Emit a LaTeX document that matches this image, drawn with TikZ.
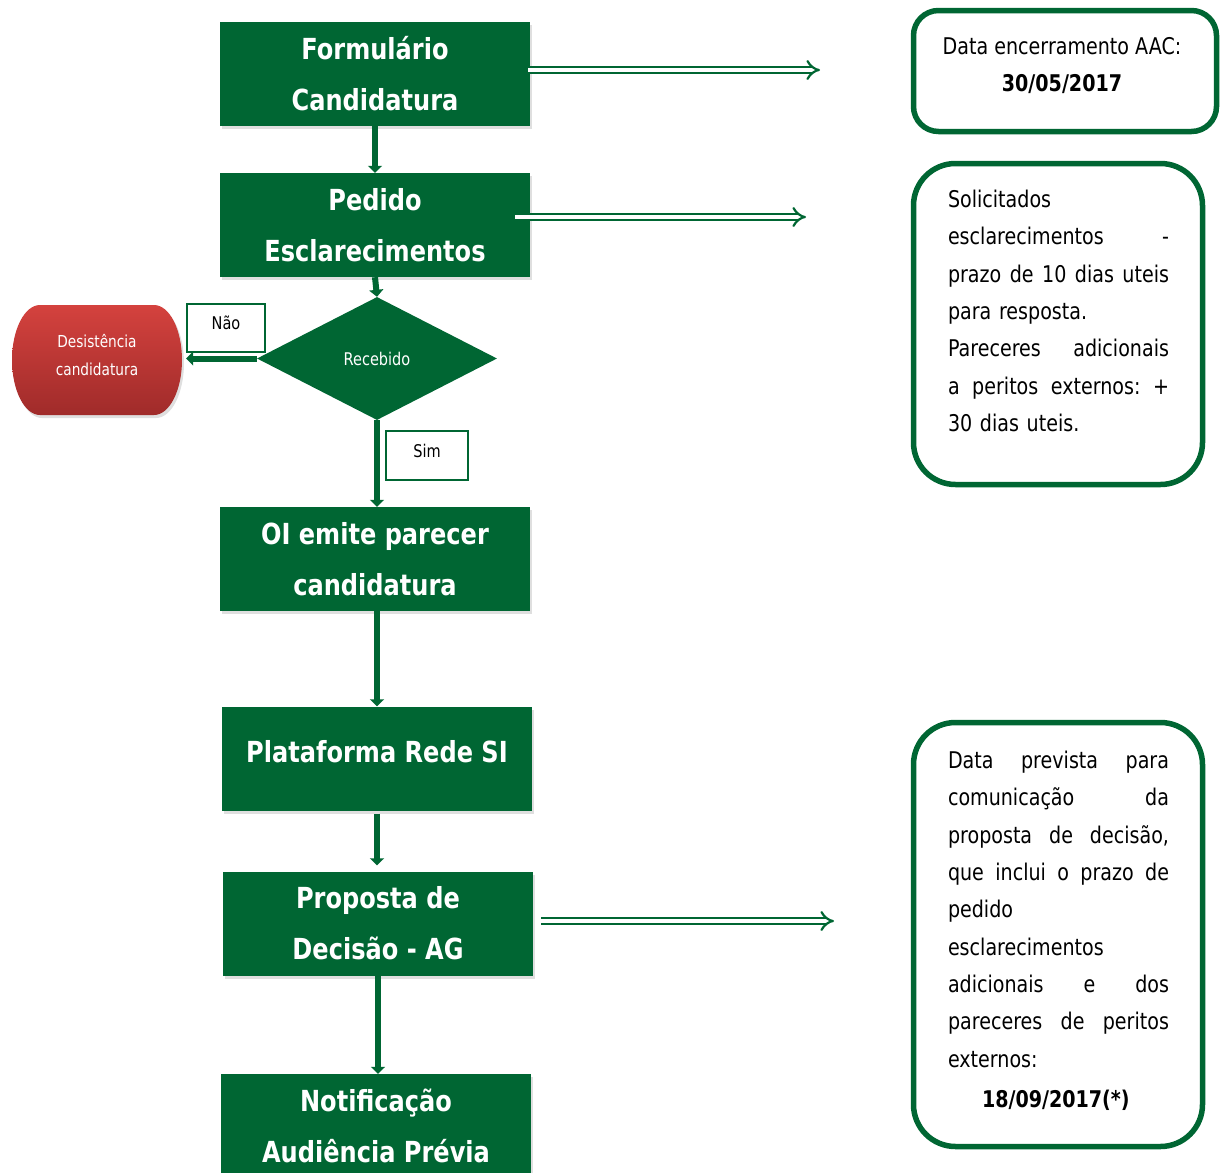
\documentclass[tikz,border=0pt]{standalone}
\usepackage{fontspec}
\setmainfont{DejaVu Sans}[FakeStretch=0.83]
\usetikzlibrary{arrows.meta,shapes.geometric,shapes.misc,shadows,calc}
\definecolor{dg}{HTML}{006633}
\definecolor{redtop}{HTML}{D4423E}
\definecolor{redbot}{HTML}{A02B2A}
\begin{document}
\begin{tikzpicture}[x=1pt,y=-1pt,
  stepbox/.style={fill=dg, text=white, font=\bfseries\fontsize{29}{51}\selectfont,
    minimum width=310pt, minimum height=104pt, inner sep=0pt, align=center,
    drop shadow={opacity=0.25, shadow xshift=2pt, shadow yshift=-3pt}},
  flow/.style={draw=dg, line width=6pt, -{Triangle[width=14pt,length=7pt]}},
  hollow/.style={draw=dg, double=white, double distance=4.5pt, line width=2.2pt, -{Implies}},
  notebox/.style={draw=dg, line width=5.5pt, fill=white},
  labelbox/.style={draw=dg, line width=2pt, fill=white, font=\fontsize{17.5}{20}\selectfont, inner sep=0pt},
  bodytext/.style={font=\fontsize{23}{37.3}\selectfont, align=left, inner sep=0pt, text width=221pt}
]
\path[use as bounding box] (0,0) rectangle (1224,1173);
\clip (0,0) rectangle (1224,1173);

% main flow boxes
\node[stepbox] (b1) at (375,74) {Formulário\\Candidatura};
\node[stepbox] (b2) at (375,225) {Pedido\\Esclarecimentos};
\node[diamond, fill=dg, minimum width=240pt, minimum height=123pt, inner sep=0pt,
  text=white, font=\fontsize{17.5}{20}\selectfont] (d) at (377,358.5) {Recebido};
\node[stepbox] (b3) at (375,559) {OI emite parecer\\candidatura};
\node[stepbox, text depth=14pt] (b4) at (377,758.5) {Plataforma Rede SI};
\node[stepbox] (b5) at (378,923.5) {Proposta de\\Decisão - AG};
\node[stepbox] (b6) at (376,1126) {Notificação\\Audiência Prévia};

% red terminal
\shade[top color=redtop, bottom color=redbot,
  drop shadow={opacity=0.25, shadow xshift=2pt, shadow yshift=-3pt}]
  (40,305) -- (154,305) arc[start angle=-90, end angle=90, x radius=28, y radius=55]
  -- (40,415) arc[start angle=90, end angle=270, x radius=28, y radius=55] -- cycle;
\node[minimum width=170pt, minimum height=110pt, text=white, align=center, inner sep=0pt,
  font=\fontsize{16.5}{28}\selectfont, text depth=10pt] (r) at (97,360) {Desistência\\candidatura};

% connectors
\draw[flow] (b1.south) -- (b2.north);
\draw[flow] (b2.south) -- (d.north);
\draw[flow] (d.west) -- ($(d.west -| r.east)+(4,0)$);
\draw[flow] (d.south) -- (d.south |- b3.north);
\draw[flow] (b4.north |- b3.south) -- (b4.north);
\draw[flow, shorten <=3pt, shorten >=6pt] (b4.south) -- (b4.south |- b5.north);
\draw[flow] (b5.south) -- (b5.south |- b6.north);

% labels
\node[labelbox, minimum width=78pt, minimum height=48pt, text depth=10pt] (nao) at (226,328) {Não};
\node[labelbox, minimum width=82pt, minimum height=49pt, text depth=10pt] (sim) at (427,455.5) {Sim};

% note boxes
\node[notebox, rounded corners=25pt, minimum width=303pt, minimum height=121pt] (n1) at (1065,71) {};
\node[font=\fontsize{23}{37}\selectfont, align=center, inner sep=0pt] (t1) at (1062,66)
  {Data encerramento AAC:\\\textbf{30/05/2017}};

\node[notebox, rounded corners=42pt, minimum width=289pt, minimum height=321pt] (n2) at (1058,324) {};
\node[bodytext] (t2) at (1058.5,311) {Solicitados\\
\makebox[221pt]{esclarecimentos\hfill-}\\
\makebox[221pt]{prazo\hfill de\hfill 10\hfill dias\hfill uteis}\\
para resposta.\\
\makebox[221pt]{Pareceres\hfill adicionais}\\
\makebox[221pt]{a\hfill peritos\hfill externos:\hfill +}\\
30 dias uteis.};

\node[notebox, rounded corners=42pt, minimum width=289pt, minimum height=424pt] (n3) at (1058,934.5) {};
\node[bodytext] (t3) at (1058.5,931) {\makebox[221pt]{Data\hfill prevista\hfill para}\\
\makebox[221pt]{comunicação\hfill da}\\
\makebox[221pt]{proposta\hfill de\hfill decisão,}\\
\makebox[221pt]{que\hfill inclui\hfill o\hfill prazo\hfill de}\\
pedido\\
esclarecimentos\\
\makebox[221pt]{adicionais\hfill e\hfill dos}\\
\makebox[221pt]{pareceres\hfill de\hfill peritos}\\
externos:\\[3.4pt]
\hspace*{34pt}\textbf{18/09/2017(*)}};

% hollow arrows toward notes
\coordinate (e1) at (820,70);
\coordinate (e2) at (806,217);
\coordinate (e3) at (834,921);
\draw[hollow] ($(b1.east |- e1)+(-2,0)$) -- (e1);
\draw[hollow] ($(b2.east |- e2)+(-15,0)$) -- (e2);
\draw[hollow] ($(b5.east |- e3)+(8,0)$) -- (e3);
\end{tikzpicture}
\end{document}
